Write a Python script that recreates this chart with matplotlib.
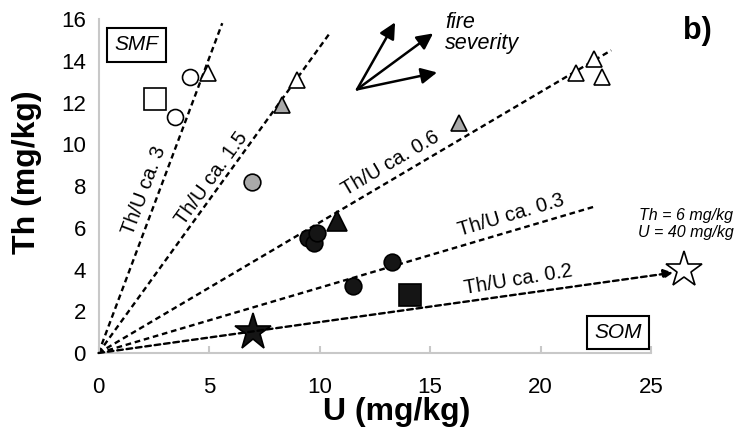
"""Th versus U scatter for ash and soil samples, with Th/U ratio guide lines."""
import numpy as np
from matplotlib import pyplot as plt

plt.rcParams['font.family'] = ['Liberation Sans', 'DejaVu Sans']

# sample groups (U, Th in mg/kg)
smf_sq_u = [2.55]
smf_sq_th = [12.15]
open_circ_u = [4.15, 3.45]
open_circ_th = [13.2, 11.3]
open_tri_u = [4.95, 9.0, 21.6, 22.4, 22.8]
open_tri_th = [13.4, 13.1, 13.4, 14.1, 13.2]
gray_tri_u = [8.3, 16.3]
gray_tri_th = [11.9, 11.0]
gray_circ_u = [6.95]
gray_circ_th = [8.2]
black_circ_u = [9.5, 9.75, 9.9, 11.5, 13.3]
black_circ_th = [5.5, 5.25, 5.75, 3.2, 4.35]
black_tri_u = [10.8]
black_tri_th = [6.3]
black_sq_u = [14.1]
black_sq_th = [2.8]
black_star_u = [7.0]
black_star_th = [1.0]

# off-scale end member, drawn at the right edge along its own ratio
star_u, star_th = 40, 6
star_plot_u = 26.5

# Th/U guide lines from the origin
ratio_labels = ['3', '1.5', '0.6', '0.3', '0.2']
line_end_u = [5.6, 10.45, 23.2, 22.4, 26.0]
line_end_th = [15.8, 15.3, 14.5, 7.0, 3.85]
label_u = [2.06, 5.14, 13.2, 18.66, 19.0]
label_th = [7.8, 8.37, 9.1, 6.6, 3.5]

# fire severity arrows
sev_start = (11.7, 12.63)
sev_tips_u = [13.42, 15.14, 15.32]
sev_tips_th = [15.84, 15.31, 13.44]

fig = plt.figure(figsize=(7.41, 4.47), dpi=100)
ax = fig.add_axes([98.5 / 741, 1 - 353 / 447, 552.5 / 741, 334 / 447])

dots = dict(color='black', lw=1.7, ls=(0, (2.4, 1.6)), solid_capstyle='butt')
for i, lab in enumerate(ratio_labels):
    if i == len(ratio_labels) - 1:
        ax.annotate('', xy=(line_end_u[i], line_end_th[i]), xytext=(0, 0),
                    arrowprops=dict(arrowstyle='-|>', color='black', lw=1.7,
                                    ls=(0, (2.4, 1.6)), mutation_scale=14,
                                    shrinkA=0, shrinkB=0),
                    annotation_clip=False)
    else:
        ax.plot([0, line_end_u[i]], [0, line_end_th[i]], **dots)
    angle = np.degrees(np.arctan2(line_end_th[i], line_end_u[i]))
    if i == len(ratio_labels) - 1:
        angle += 1.5
    ax.text(label_u[i], label_th[i], f'Th/U ca. {lab}', fontsize=14.5,
            rotation=angle, rotation_mode='anchor', transform_rotates_text=True,
            ha='center', va='center')

edge = dict(markeredgecolor='black', markeredgewidth=1.2, ls='none', clip_on=False)
ax.plot(smf_sq_u, smf_sq_th, marker='s', ms=15.5, markerfacecolor='white', **edge)
ax.plot(open_circ_u, open_circ_th, marker='o', ms=11.5, markerfacecolor='white', **edge)
ax.plot(open_tri_u, open_tri_th, marker='^', ms=11, markerfacecolor='white', **edge)
ax.plot(gray_tri_u, gray_tri_th, marker='^', ms=11.5, markerfacecolor='#a9a9a9', **edge)
ax.plot(gray_circ_u, gray_circ_th, marker='o', ms=12, markerfacecolor='#a9a9a9', **edge)
ax.plot(black_circ_u, black_circ_th, marker='o', ms=12, markerfacecolor='#151515', **edge)
ax.plot(black_tri_u, black_tri_th, marker='^', ms=14.5, markerfacecolor='#151515', **edge)
ax.plot(black_sq_u, black_sq_th, marker='s', ms=16, markerfacecolor='#151515', **edge)
ax.plot(black_star_u, black_star_th, marker='*', ms=28, markerfacecolor='#151515', **edge)
ax.plot([star_plot_u], [star_plot_u * star_th / star_u], marker='*', ms=27,
        markerfacecolor='white', **edge)
ax.text(26.6, 6.17, f'Th = {star_th} mg/kg\nU = {star_u} mg/kg', fontsize=11.5,
        style='italic', ha='center', va='center', linespacing=1.15)

for tu, tth in zip(sev_tips_u, sev_tips_th):
    ax.annotate('', xy=(tu, tth), xytext=sev_start,
                arrowprops=dict(arrowstyle='-|>', color='black', lw=1.8,
                                mutation_scale=24, shrinkA=0, shrinkB=0),
                annotation_clip=False)
ax.text(15.68, 16.35, 'fire\nseverity', fontsize=15.5, style='italic',
        ha='left', va='top', linespacing=1.0)

box = dict(boxstyle='square,pad=0.35', facecolor='white', edgecolor='black', lw=1.5)
ax.text(1.72, 14.76, 'SMF', fontsize=15, style='italic', ha='center', va='center', bbox=box)
ax.text(23.5, 0.98, 'SOM', fontsize=15, style='italic', ha='center', va='center', bbox=box)

fig.text(697 / 741, 1 - 31 / 447, 'b)', fontsize=22, weight='bold', ha='center', va='center')

ax.set_xlim(0, 25)
ax.set_ylim(0, 16)
ax.set_xticks(range(0, 26, 5))
ax.set_yticks(range(0, 17, 2))
for side in ['top', 'right']:
    ax.spines[side].set_visible(False)
for side in ['left', 'bottom']:
    ax.spines[side].set_color('#c8c8c8')
    ax.spines[side].set_linewidth(1.5)
ax.tick_params(axis='x', direction='in', length=5, width=1.5, color='#c8c8c8',
               labelsize=16, pad=17)
ax.tick_params(axis='y', length=0, labelsize=16, pad=9)

ax.set_xlabel('U (mg/kg)', fontsize=23, weight='bold', va='center')
ax.xaxis.set_label_coords(0.54, -0.177)
ax.set_ylabel('Th (mg/kg)', fontsize=23, weight='bold', va='center')
ax.yaxis.set_label_coords(-0.129, 0.542)

fig.savefig('out.png', dpi=100)
